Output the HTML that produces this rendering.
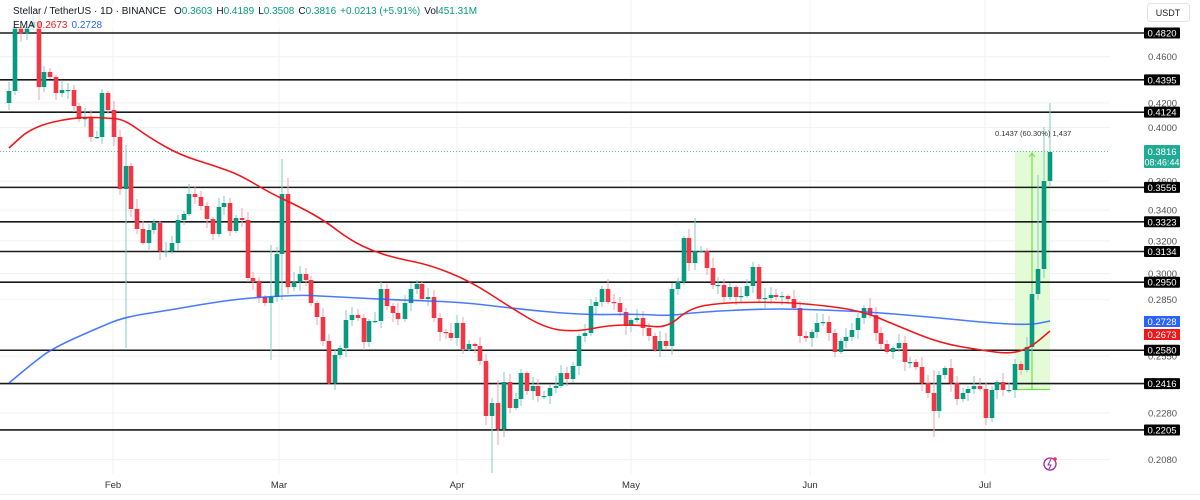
<!DOCTYPE html>
<html><head><meta charset="utf-8"><style>
body{margin:0;background:#fff;width:1200px;height:500px;overflow:hidden;font-family:"Liberation Sans",sans-serif}
svg{display:block}
</style></head><body>
<svg id="s" width="1200" height="500" xmlns="http://www.w3.org/2000/svg" font-family="Liberation Sans, sans-serif"></svg>
<script>
const s=document.getElementById('s');let h='';
const Y=p=>33+(Math.log(0.482)-Math.log(p))*507.6;
[0.46,0.42,0.40,0.36,0.34,0.32,0.30,0.285,0.2550,0.228,0.2080].forEach(p=>{h+=`<line x1="0" x2="1110" y1="${Y(p)}" y2="${Y(p)}" stroke="#f0f1f3" stroke-width="1"/>`;});
[113,279,457,631,810,985].forEach(x=>{h+=`<line x1="${x}" x2="${x}" y1="0" y2="475" stroke="#f0f1f3"/>`;});
h+=`<rect x="1015" y="151" width="35" height="238" fill="#e4fbd8"/>`;
h+=`<line x1="1015" x2="1050" y1="389.5" y2="389.5" stroke="#6ce04a" stroke-width="1.2"/>`;
h+=`<line x1="1032" x2="1032" y1="389" y2="153" stroke="#6ce04a" stroke-width="1.2"/>`;
h+=`<path d="M1029 157 L1032 153 L1035 157" fill="none" stroke="#6ce04a"/>`;
h+=`<line x1="0" x2="1110" y1="151.5" y2="151.5" stroke="#22ab94" stroke-dasharray="1,2" stroke-width="0.8"/>`;
const L=[0.4820,0.4395,0.4124,0.3556,0.3323,0.3134,0.2950,0.2580,0.2416,0.2205];
L.forEach(p=>{const y=Y(p);h+=`<line x1="0" x2="1145" y1="${y}" y2="${y}" stroke="#1a1a1a" stroke-width="1.6"/>`;});
const seg=[
[0,1,[[27,91],[45,27],[63,33],[81,27],[99,22],[116,87],[133,72],[151,77],[169,93],[186,90],[204,90],[221,106],[238,119],[256,118],[273,137],[290,137],[307,93],[325,110],[342,137],[359,189],[377,166],[394,209],[411,229],[428,243],[446,230],[463,223],[481,251],[498,251],[516,243],[533,220],[551,214],[568,194],[586,197],[603,206],[621,219],[638,234],[656,207],[673,203],[690,231],[708,218],[725,220],[743,278],[760,281],[778,297],[795,303],[813,297],[830,254],[847,194],[865,287],[882,282],[899,274],[917,280],[934,303],[952,317],[969,341],[987,383],[1004,355],[1021,348],[1039,320],[1056,315],[1073,318],[1091,342],[1108,321],[1126,321],[1143,289],[1161,306],[1178,313],[1195,319]]],
[400,1,[[15,303],[32,289],[50,284],[67,299],[85,297],[102,318],[119,332],[137,333],[154,338],[172,323],[189,349],[206,344],[224,346],[241,361],[259,416],[276,403],[293,429],[311,382],[329,408],[347,399],[362,373],[380,391],[398,386],[414,396],[432,396],[449,388],[467,386],[484,373],[502,379],[519,366],[537,336],[554,333],[572,306],[589,302],[606,289],[624,302],[641,303],[659,312],[677,326],[694,320],[711,318],[729,328],[746,336],[764,350],[781,341],[798,346],[816,289],[833,282],[851,238],[868,263],[886,251],[903,251],[920,268],[938,285],[955,285],[972,297],[990,287],[1007,297],[1024,296],[1042,286],[1059,267],[1077,299],[1094,298],[1112,295],[1129,297],[1147,296],[1164,299],[1181,308],[1199,336]]],
[780,1,[[77,338],[95,332],[112,323],[130,322],[147,333],[164,352],[182,341],[199,337],[216,330],[234,318],[252,308],[269,315],[287,333],[304,344],[321,352],[339,348],[356,343],[374,362],[391,362],[409,367],[426,383],[443,393],[461,411],[478,375],[496,368],[513,383],[530,399],[548,393],[565,389],[583,386],[600,389],[617,418],[635,390],[652,382],[670,390],[687,390],[705,364],[722,370],[740,347],[757,294],[774,269],[792,181],[810,152]]]];
const ov={9:[88,108],15:[20,75],21:[20,40],27:[20,40],39:[20,100],125:[145,348],271:[245,360],282:[159,300],289:[178,290],492:[400,473],498:[380,445],695:[218,270],933:[370,437],1044:[127,250],1050:[103,165],1038:[175,300]};
let prev=103,k=0;
seg.forEach(([off,_,arr])=>arr.forEach(([zx,c])=>{
 const x=Math.round(off+zx/3);const o=prev;prev=c;k++;
 const up=c<=o;const col=up?'#089981':'#f23645';const wcol=up?'#7fcdbf':'#f7a0a8';
 let hi=Math.min(o,c)-(2+(k*7%9)),lo=Math.max(o,c)+(2+(k*5%8));
 for(const kx in ov){if(Math.abs(kx-x)<=2){hi=Math.min(hi,ov[kx][0]);lo=Math.max(lo,ov[kx][1]);}}
 h+=`<line x1="${x}" x2="${x}" y1="${hi}" y2="${lo}" stroke="${wcol}" stroke-width="1"/>`;
 const t=Math.min(o,c),b=Math.max(Math.abs(c-o),1.2);
 h+=`<rect x="${x-2.3}" y="${t}" width="4.6" height="${b}" fill="${col}"/>`;
}));
const red=[[9,148],[32,127],[75,117],[110,118],[125,120],[150,138],[180,155],[215,166],[240,175],[270,193],[300,207],[325,221],[350,240],[375,252],[400,259],[430,265],[470,281],[510,307],[545,328],[575,332],[610,325],[640,325],[667,328],[690,308],[720,303],[760,302],[800,303],[860,310],[900,327],[940,343],[980,350],[1010,354],[1030,348],[1050,331]];
const blue=[[9,383],[33,363],[53,348],[100,327],[125,317],[170,310],[210,303],[247,298],[300,295],[320,296],[398,300],[460,302],[510,308],[580,315],[640,314],[667,316],[700,312],[760,309],[800,309],[870,312],[930,317],[990,323],[1030,325],[1050,321]];
const path=a=>{let d='M'+a[0].join(' ');for(let i=1;i<a.length;i++){const p=a[i-1],q=a[i];d+=` Q${p[0]} ${p[1]} ${(p[0]+q[0])/2} ${(p[1]+q[1])/2}`;}d+=' L'+a[a.length-1].join(' ');return d;};
h+=`<path d="${path(blue)}" fill="none" stroke="#2962ff" stroke-width="1.6" opacity="0.85"/>`;
h+=`<path d="${path(red)}" fill="none" stroke="#f0171b" stroke-width="1.6"/>`;
[[0.46,'0.4600'],[0.42,'0.4200'],[0.40,'0.4000'],[0.36,'0.3600'],[0.34,'0.3400'],[0.32,'0.3200'],[0.30,'0.3000'],[0.285,'0.2850'],[0.2550,'0.2550'],[0.228,'0.2280'],[0.2080,'0.2080']].forEach(([p,t])=>{h+=`<text x="1148" y="${Y(p)+3.5}" font-size="9.5" fill="#555">${t}</text>`;});
L.forEach(p=>{const y=Y(p);h+=`<rect x="1144" y="${y-5.5}" width="36" height="11" fill="#000" rx="1"/><text x="1162" y="${y+3.5}" font-size="9.5" fill="#fff" text-anchor="middle">${p.toFixed(4)}</text>`;});
h+=`<rect x="1144" y="145" width="36" height="23" fill="#22ab94" rx="1"/><text x="1162" y="155" font-size="9.5" fill="#fff" text-anchor="middle">0.3816</text><text x="1162" y="165.5" font-size="9" fill="#fff" text-anchor="middle">08:46:44</text>`;
h+=`<rect x="1144" y="316" width="36" height="11" fill="#2962ff"/><text x="1162" y="325" font-size="9.5" fill="#fff" text-anchor="middle">0.2728</text>`;
h+=`<rect x="1144" y="329" width="36" height="11" fill="#f0171b"/><text x="1162" y="338" font-size="9.5" fill="#fff" text-anchor="middle">0.2673</text>`;
h+=`<rect x="1147.5" y="3.5" width="42" height="18" fill="#fff" stroke="#e0e3eb" rx="3"/><text x="1168" y="16" font-size="9" fill="#222" text-anchor="middle">USDT</text>`;
[['Feb',113],['Mar',279],['Apr',457],['May',631],['Jun',810],['Jul',985]].forEach(([t,x])=>{h+=`<text x="${x}" y="488" font-size="9.5" fill="#333" text-anchor="middle">${t}</text>`;});
h+=`<line x1="0" x2="1200" y1="494.5" y2="494.5" stroke="#eee"/>`;
h+=`<text x="995" y="136" font-size="7.5" fill="#333">0.1437 (60.30%) 1,437</text>`;
h+=`<circle cx="1050" cy="464" r="6" fill="none" stroke="#9c27b0" stroke-width="1.3"/><path d="M1051 459 L1048 465 L1051 465 L1049 469" fill="none" stroke="#9c27b0" stroke-width="1"/><circle cx="1055" cy="459" r="1.8" fill="#f23645"/>`;
h+=`<rect x="10" y="3" width="400" height="26" fill="#fff" opacity="0.6"/>`;
h+=`<text x="13" y="14" font-size="10" fill="#131722">Stellar / TetherUS · 1D · BINANCE <tspan dx="5">O</tspan><tspan fill="#089981">0.3603</tspan><tspan dx="4">H</tspan><tspan fill="#089981">0.4189</tspan><tspan dx="4">L</tspan><tspan fill="#089981">0.3508</tspan><tspan dx="4">C</tspan><tspan fill="#089981">0.3816</tspan><tspan dx="4" fill="#089981">+0.0213 (+5.91%)</tspan><tspan dx="4">Vol</tspan><tspan fill="#089981">451.31M</tspan></text>`;
h+=`<text x="13" y="28" font-size="10" fill="#131722">EMA <tspan fill="#f0171b">0.2673</tspan><tspan dx="4" fill="#2962ff">0.2728</tspan></text>`;
s.innerHTML=h;
</script>
</body></html>
